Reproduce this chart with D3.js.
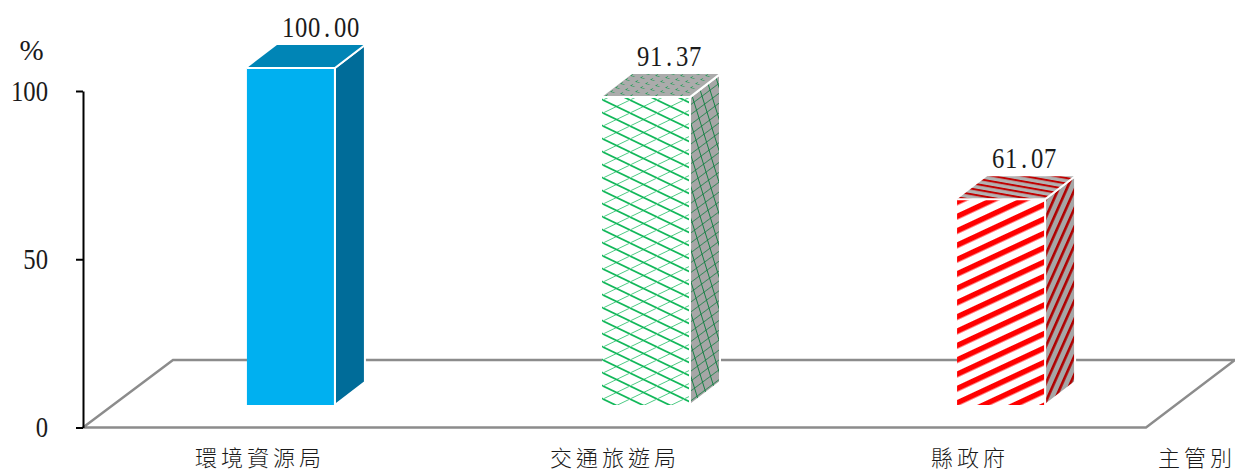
<!DOCTYPE html>
<html>
<head>
<meta charset="utf-8">
<script src="https://cdn.jsdelivr.net/npm/d3@7"></script>
<style>
  html, body { margin: 0; padding: 0; background: #fff; }
  svg { display: block; }
  text { fill: #1a1a1a; }
  .num { font-family: "Liberation Serif", serif; }
  .cjk { font-family: "Noto Sans CJK TC", sans-serif; font-size: 22px; font-weight: 300; letter-spacing: 4px; }
</style>
</head>
<body>
<div id="chart"></div>
<script>
const categories = ["環境資源局", "交通旅遊局", "縣政府"];
const values = [100.00, 91.37, 61.07];
const valueLabels = ["100.00", "91.37", "61.07"];
const yTicks = [0, 50, 100];

const width = 1235, height = 473;
const depth = { x: 30, y: 23 };
const floorLeft = 83, floorRight = 1146;
const squeeze = 0.85; // numbers in the original are narrow and high
const digitW = 13;

const svg = d3.select("#chart").append("svg")
  .attr("width", width)
  .attr("height", height);

const defs = svg.append("defs");

// stripes for the county bar, top and side are the same stripes on grey
function stripePattern(id, bg, color, h, sw, transform) {
  let p = defs.append("pattern")
    .attr("id", id)
    .attr("patternUnits", "userSpaceOnUse")
    .attr("width", 10)
    .attr("height", h)
    .attr("patternTransform", transform);
  p.append("rect").attr("width", 10).attr("height", h).attr("fill", bg);
  p.append("rect").attr("width", 10).attr("height", sw).attr("fill", color);
}

// rhombus net for the front of the transport bar
function rhombusPattern(id, bg, color, w, h) {
  let p = defs.append("pattern")
    .attr("id", id)
    .attr("patternUnits", "userSpaceOnUse")
    .attr("width", w)
    .attr("height", h)
    .attr("patternTransform", "translate(603,100)");
  p.append("rect").attr("width", w).attr("height", h).attr("fill", bg);
  p.append("path")
    .attr("d", `M0,0L${w},${h}`)
    .attr("stroke", color)
    .attr("stroke-width", 1.7);
  p.append("path")
    .attr("d", `M0,${h}L${w},0`)
    .attr("stroke", color)
    .attr("stroke-width", 1)
    .attr("opacity", 0.75);
}

// net of parallelograms for top and side, u and v are the cell sides
function latticePattern(id, bg, color, sw, u, v, dash) {
  let p = defs.append("pattern")
    .attr("id", id)
    .attr("patternUnits", "userSpaceOnUse")
    .attr("width", 10)
    .attr("height", 10)
    .attr("patternTransform", `matrix(${u[0] / 10},${u[1] / 10},${v[0] / 10},${v[1] / 10},0,0)`);
  p.append("rect").attr("width", 10).attr("height", 10).attr("fill", bg);
  p.append("path")
    .attr("d", "M0,0H10M0,0V10")
    .attr("fill", "none")
    .attr("stroke", color)
    .attr("stroke-width", sw)
    .attr("stroke-dasharray", dash);
}

stripePattern("redFront", "#fff", "#ff0000", 13, 5.5, "rotate(-25)");
stripePattern("redTop", "#b2b2b2", "#c00000", 5.4, 2, "rotate(10)");
stripePattern("redSide", "#a6a6a6", "#b00000", 7.5, 2.6, "rotate(-66)");
rhombusPattern("greenFront", "#fff", "#12b85a", 27, 13);
latticePattern("greenTop", "#ababab", "#0f9a4b", 2, [10, 2], [5, -4], "4 6");
latticePattern("greenSide", "#a6a6a6", "#0e7f40", 1.9, [8, -6], [2.5, 8], "none");

const barFills = [
  { front: "#00b0f0", top: "#0085b6", side: "#006c99" },
  { front: "url(#greenFront)", top: "url(#greenTop)", side: "url(#greenSide)" },
  { front: "url(#redFront)", top: "url(#redTop)", side: "url(#redSide)" },
];

// axis runs from the front corner of the floor, bars stand 22px further up
const y = d3.scaleLinear().domain([0, 100]).range([427.5, 91]);
const barY = d3.scaleLinear().domain([0, 100]).range([405, 68]);
const x = d3.scaleBand()
  .domain(categories)
  .range([69, 1223])
  .paddingInner(0.75)
  .paddingOuter(0.5);
const barW = 88;

// floor
svg.append("path")
  .attr("d", `M${floorLeft},${y(0)}L${floorLeft + 90},360L${width},360L${floorRight},${y(0)}Z`)
  .attr("fill", "#fff")
  .attr("stroke", "#8c8c8c")
  .attr("stroke-width", 2.4);

const yAxis = d3.axisLeft(y)
  .tickValues(yTicks)
  .tickSize(7)
  .tickPadding(28)
  .tickSizeOuter(0);

const yAxisG = svg.append("g")
  .attr("transform", `translate(${floorLeft},0)`)
  .call(yAxis);
yAxisG.select(".domain").attr("stroke", "#000").attr("stroke-width", 2);
yAxisG.selectAll(".tick line").attr("stroke", "#000").attr("stroke-width", 2);
yAxisG.selectAll(".tick text")
  .attr("class", "num")
  .attr("fill", "#1a1a1a")
  .attr("font-size", 29)
  .attr("x", -35 / squeeze)
  .attr("dy", "0.32em")
  .attr("transform", `scale(${squeeze},1)`);

const bars = svg.append("g").selectAll("g")
  .data(categories)
  .join("g");

bars.each(function (c, i) {
  let g = d3.select(this);
  let x0 = barCenter(i) - barW / 2;
  let x1 = x0 + barW;
  let top = barY(values[i]);
  let bottom = barY(0);

  g.append("path")
    .attr("d", `M${x1},${top}L${x1 + depth.x},${top - depth.y}L${x1 + depth.x},${bottom - depth.y}L${x1},${bottom}Z`)
    .attr("fill", barFills[i].side)
    .attr("stroke", "#fff")
    .attr("stroke-width", 2);
  g.append("path")
    .attr("d", `M${x0},${top}L${x0 + depth.x},${top - depth.y}L${x1 + depth.x},${top - depth.y}L${x1},${top}Z`)
    .attr("fill", barFills[i].top);
  g.append("rect")
    .attr("x", x0)
    .attr("y", top)
    .attr("width", barW)
    .attr("height", bottom - top)
    .attr("fill", barFills[i].front);
  // white edge between the faces
  g.append("path")
    .attr("d", `M${x0},${top}L${x1},${top}L${x1},${bottom}M${x1},${top}L${x1 + depth.x},${top - depth.y}`)
    .attr("fill", "none")
    .attr("stroke", "#fff")
    .attr("stroke-width", 2);

  // every character gets its own cell, also the point
  let chars = valueLabels[i].split("");
  g.append("text")
    .attr("class", "num")
    .attr("transform", `translate(${x1 - 53},${top - 31}) scale(${squeeze},1)`)
    .attr("x", chars.map((ch, k) => (k * digitW + (ch == "." ? 3 : 0)) / squeeze).join(" "))
    .attr("font-size", 29)
    .text(valueLabels[i]);

  g.append("text")
    .attr("class", "cjk")
    .attr("x", barCenter(i) - 31)
    .attr("y", 466)
    .attr("text-anchor", "middle")
    .text(c);
});

function barCenter(i) {
  return x(categories[i]) + x.bandwidth() / 2;
}

svg.append("text")
  .attr("class", "num")
  .attr("x", 31.5)
  .attr("y", 60)
  .attr("text-anchor", "middle")
  .attr("font-size", 29)
  .text("%");

svg.append("text")
  .attr("class", "cjk")
  .attr("x", 1158)
  .attr("y", 466)
  .text("主管別");
</script>
</body>
</html>
